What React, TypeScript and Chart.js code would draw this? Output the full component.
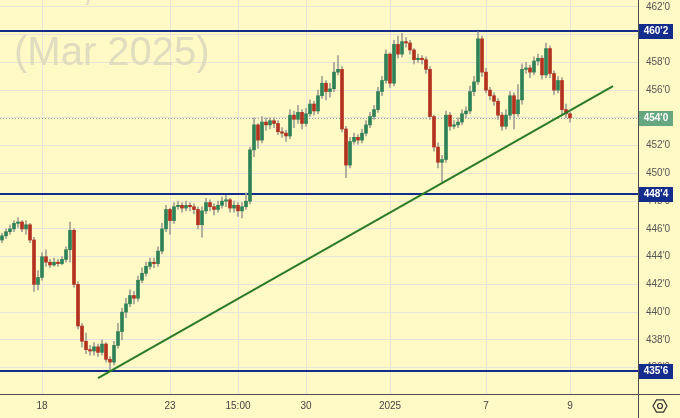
import React, { useEffect, useRef } from "react";
import { Chart, registerables } from "chart.js";
Chart.register(...registerables);

// ---- data (Corn Mar 2025, hourly) ----
const firstOpen = 445.2;
const closes = [
  445.5, 445.8, 446.0, 446.4, 446.5, 446.0, 446.3, 445.2, 442.0, 442.5,
  444.0, 443.6, 443.4, 443.6, 443.5, 443.8, 444.5, 445.9, 442.0, 439.0,
  437.9, 437.3, 437.2, 437.5, 437.1, 437.7, 436.6, 436.4, 437.6, 438.6,
  440.0, 440.6, 441.2, 441.0, 442.3, 442.8, 443.3, 443.6, 443.5, 444.4,
  446.0, 447.4, 446.6, 447.6, 447.7, 447.5, 447.7, 447.6, 447.4, 446.3,
  447.3, 447.9, 447.6, 447.4, 447.7, 448.0, 448.1, 447.5, 447.7, 447.3,
  447.6, 448.0, 451.7, 453.5, 452.4, 453.7, 453.5, 453.8, 453.6, 453.0,
  452.9, 452.7, 454.2, 453.9, 454.4, 453.6, 454.3, 455.0, 454.5, 455.6,
  456.5, 455.9, 456.1, 457.3, 457.5, 453.2, 450.6, 452.3, 452.6, 452.4,
  452.9, 453.5, 454.1, 454.6, 455.9, 456.7, 458.6, 456.5, 459.3, 458.6,
  459.5, 459.4, 458.9, 458.2, 458.3, 458.2, 457.5, 454.1, 451.9, 450.8,
  451.0, 454.2, 453.4, 453.5, 453.7, 454.3, 454.5, 455.9, 456.6, 459.7,
  457.3, 456.0, 455.6, 455.2, 454.2, 453.4, 454.2, 455.6, 454.3, 455.3,
  457.5, 457.6, 457.3, 458.1, 458.3, 457.1, 459.0, 457.2, 456.0, 456.7,
  454.6, 454.3, 454.0,
];
const highs = [
  445.7, 446.0, 446.3, 446.6, 446.8, 446.6, 446.6, 446.4, 445.4, 443.0,
  444.3, 444.5, 443.8, 443.9, 443.8, 444.0, 444.7, 446.5, 446.0, 442.2,
  439.2, 438.5, 437.6, 437.8, 437.7, 438.0, 437.8, 436.8, 437.9, 439.2,
  440.3, 441.0, 441.6, 441.5, 442.6, 443.2, 443.6, 443.9, 443.9, 444.7,
  446.4, 447.7, 447.5, 447.9, 448.0, 447.9, 448.0, 447.9, 447.8, 447.6,
  447.6, 448.2, 448.1, 447.8, 448.0, 448.3, 448.4, 448.2, 448.0, 447.9,
  447.9, 448.6, 451.9, 454.0, 453.6, 454.1, 454.0, 454.0, 454.0, 453.8,
  453.3, 453.1, 454.6, 454.5, 454.9, 454.6, 454.7, 455.3, 455.2, 456.0,
  457.0, 456.7, 456.5, 458.0, 458.5, 457.7, 453.4, 452.6, 452.9, 452.8,
  453.2, 453.8, 454.4, 454.9, 456.2, 457.0, 458.9, 458.7, 459.6, 459.9,
  460.1, 459.8, 459.6, 459.0, 458.6, 458.5, 458.4, 457.7, 454.2, 452.2,
  451.3, 454.5, 454.4, 453.8, 454.0, 454.6, 454.8, 456.3, 457.0, 460.2,
  459.9, 457.6, 456.2, 455.8, 455.4, 454.4, 454.6, 455.9, 455.8, 456.4,
  457.9, 458.0, 457.8, 458.4, 458.6, 458.5, 459.4, 459.2, 457.4, 457.0,
  456.9, 455.0, 454.4,
];
const lows = [
  445.0, 445.3, 445.6, 445.8, 446.1, 445.8, 445.6, 445.0, 441.5, 441.6,
  442.3, 443.3, 443.2, 443.3, 443.3, 443.4, 443.6, 443.6, 441.8, 438.8,
  437.5, 437.0, 436.9, 436.9, 436.8, 436.9, 436.4, 435.8, 436.2, 437.4,
  438.0, 439.6, 440.4, 440.6, 440.8, 442.1, 442.6, 443.1, 443.2, 443.3,
  444.2, 445.8, 445.6, 446.4, 447.4, 447.2, 447.3, 447.3, 447.1, 446.0,
  445.4, 447.1, 447.3, 447.0, 447.2, 447.5, 447.6, 447.2, 447.2, 446.9,
  446.8, 447.4, 447.8, 451.2, 451.8, 452.2, 453.1, 453.2, 453.3, 452.8,
  452.6, 452.3, 452.5, 453.3, 453.6, 453.2, 453.4, 454.1, 454.2, 454.3,
  455.4, 455.3, 455.5, 455.9, 457.1, 453.0, 449.7, 450.4, 452.1, 452.1,
  452.2, 452.7, 453.3, 453.9, 454.4, 455.6, 456.5, 456.2, 456.3, 458.3,
  458.4, 459.1, 458.6, 457.9, 458.0, 457.9, 457.2, 453.9, 451.6, 450.4,
  449.3, 450.8, 453.1, 453.2, 453.3, 453.5, 454.0, 454.3, 455.6, 456.4,
  457.0, 455.8, 455.3, 454.9, 453.9, 453.1, 453.2, 453.9, 453.2, 454.1,
  455.0, 457.2, 456.9, 457.1, 457.8, 456.8, 456.9, 456.9, 455.7, 455.8,
  454.3, 454.0, 453.7,
];
const dayTickIndex = [10, 42, 59, 76, 97, 121, 142];
const dayTickLabels = ["18", "23", "15:00", "30", "2025", "7", "9"];
const priceTicks = [436, 438, 440, 442, 444, 446, 448, 450, 452, 454, 456, 458, 460, 462];
const levels = [460.25, 448.5, 435.75];
const trendX = [24, 152.75];
const trendY = [435.25, 456.3];
const watermark = "(Mar 2025)";

// ---- styles ----
const BG = "#fff9c5";
const GRID = "#e7e5db";
const UP = "#2f8256";
const DOWN = "#b2311f";
const WICK = "#a3a294";
const NAVY = "#142c8c";
const TREND = "#2b7a26";
const LASTBOX = "#65a781";

function fmtPrice(v: number): string {
  const w = Math.floor(v + 1e-9);
  const e = Math.round((v - w) * 8);
  return `${w}'${e}`;
}

function noPad(s: any) {
  s.paddingTop = 0;
  s.paddingBottom = 0;
  s.paddingLeft = 0;
  s.paddingRight = 0;
}

export default function App() {
  const ref = useRef<HTMLCanvasElement | null>(null);

  useEffect(() => {
    const canvas = ref.current;
    if (!canvas) return;
    const opens = [firstOpen, ...closes.slice(0, -1)];
    const lastPrice = closes[closes.length - 1];
    const wickData = closes.map((_, i) => ({ x: i, y: [lows[i], highs[i]] }));
    const bodyData = closes.map((c, i) => ({
      x: i,
      y: [Math.min(opens[i], c), Math.max(opens[i], c)],
    }));
    const bodyColors = closes.map((c, i) => (c >= opens[i] ? UP : DOWN));

    const decor = {
      id: "decor",
      beforeDraw(chart: any) {
        const ctx = chart.ctx;
        ctx.save();
        ctx.fillStyle = BG;
        ctx.fillRect(0, 0, chart.width, chart.height);
        ctx.restore();
      },
      beforeDatasetsDraw(chart: any) {
        const ctx = chart.ctx;
        const ys = chart.scales.y;
        const area = chart.chartArea;
        ctx.save();
        // watermark
        ctx.fillStyle = "#dfdcbf";
        ctx.font = "40px 'Liberation Sans', Arial, sans-serif";
        ctx.textBaseline = "alphabetic";
        ctx.textAlign = "left";
        ctx.fillText(",", 82, 0);
        ctx.fillText(watermark, 14, 65);
        // dotted last price line
        const yl = Math.round(ys.getPixelForValue(lastPrice)) + 0.5;
        ctx.strokeStyle = "#7fa896";
        ctx.lineWidth = 1;
        ctx.setLineDash([1, 2]);
        ctx.beginPath();
        ctx.moveTo(area.left, yl);
        ctx.lineTo(area.right, yl);
        ctx.stroke();
        ctx.setLineDash([]);
        // horizontal levels
        ctx.strokeStyle = NAVY;
        ctx.lineWidth = 2;
        levels.forEach((lv) => {
          const y = Math.round(ys.getPixelForValue(lv));
          ctx.beginPath();
          ctx.moveTo(area.left, y);
          ctx.lineTo(area.right, y);
          ctx.stroke();
        });
        ctx.restore();
      },
      afterDraw(chart: any) {
        const ctx = chart.ctx;
        const ys = chart.scales.y;
        const area = chart.chartArea;
        ctx.save();
        // axis borders
        ctx.strokeStyle = "#4e4e4e";
        ctx.lineWidth = 1;
        ctx.beginPath();
        ctx.moveTo(area.right + 0.5, 0);
        ctx.lineTo(area.right + 0.5, chart.height);
        ctx.moveTo(0, area.bottom + 0.5);
        ctx.lineTo(chart.width, area.bottom + 0.5);
        ctx.stroke();
        // level label boxes
        ctx.font = "bold 10px 'Liberation Sans', Arial, sans-serif";
        ctx.textAlign = "center";
        ctx.textBaseline = "middle";
        const box = (v: number, color: string) => {
          const y = Math.round(ys.getPixelForValue(v));
          ctx.fillStyle = color;
          ctx.fillRect(area.right + 1, y - 7, 34, 15);
          ctx.fillStyle = "#ffffff";
          ctx.fillText(fmtPrice(v), area.right + 18, y + 0.5);
        };
        levels.forEach((lv) => box(lv, NAVY));
        box(lastPrice, LASTBOX);
        // settings icon
        const cx = 660, cy = 406, r = 7;
        ctx.strokeStyle = "#333";
        ctx.lineWidth = 1.2;
        ctx.beginPath();
        for (let k = 0; k < 6; k++) {
          const a = (Math.PI / 3) * k;
          const px = cx + r * Math.cos(a);
          const py = cy + r * Math.sin(a);
          if (k === 0) ctx.moveTo(px, py);
          else ctx.lineTo(px, py);
        }
        ctx.closePath();
        ctx.stroke();
        ctx.beginPath();
        ctx.arc(cx, cy, 2.5, 0, Math.PI * 2);
        ctx.stroke();
        ctx.restore();
      },
    };

    const chart = new Chart(canvas, {
      type: "bar",
      data: {
        datasets: [
          {
            type: "line",
            data: [
              { x: trendX[0], y: trendY[0] },
              { x: trendX[1], y: trendY[1] },
            ],
            borderColor: TREND,
            borderWidth: 2,
            pointRadius: 0,
            order: 0,
          } as any,
          {
            data: bodyData as any,
            backgroundColor: bodyColors,
            borderWidth: 0,
            barThickness: 3,
            minBarLength: 1,
            grouped: false,
            order: 1,
          } as any,
          {
            data: wickData as any,
            backgroundColor: WICK,
            borderWidth: 0,
            barThickness: 1,
            grouped: false,
            order: 2,
          } as any,
        ],
      },
      options: {
        animation: false,
        responsive: false,
        devicePixelRatio: 1,
        layout: { padding: 0 },
        plugins: { legend: { display: false }, tooltip: { enabled: false } },
        scales: {
          x: {
            type: "linear",
            min: -0.5,
            max: 159,
            offset: false,
            border: { display: false },
            grid: { color: GRID, drawTicks: false, offset: false },
            afterBuildTicks: (s: any) => {
              s.ticks = dayTickIndex.map((v) => ({ value: v }));
            },
            afterFit: (s: any) => {
              s.height = 24;
              noPad(s);
            },
            ticks: {
              autoSkip: false,
              maxRotation: 0,
              padding: 6,
              color: "#444",
              font: { size: 10, family: "'Liberation Sans', Arial, sans-serif" },
              callback: (v: any) => {
                const k = dayTickIndex.indexOf(Number(v));
                return k >= 0 ? dayTickLabels[k] : "";
              },
            },
          },
          y: {
            type: "linear",
            position: "right",
            min: 434.1,
            max: 462.5,
            border: { display: false },
            grid: { color: GRID, drawTicks: false, offset: false },
            afterBuildTicks: (s: any) => {
              s.ticks = priceTicks.map((v) => ({ value: v }));
            },
            afterFit: (s: any) => {
              s.width = 42;
              noPad(s);
            },
            ticks: {
              padding: 8,
              color: "#555",
              font: { size: 10, family: "'Liberation Sans', Arial, sans-serif" },
              callback: (v: any) => fmtPrice(Number(v)),
            },
          },
        },
      },
      plugins: [decor],
    });
    return () => chart.destroy();
  }, []);

  return (
    <div style={{ position: "fixed", left: 0, top: 0, width: 680, height: 418, background: BG }}>
      <canvas ref={ref} width={680} height={418} style={{ display: "block" }} />
    </div>
  );
}
